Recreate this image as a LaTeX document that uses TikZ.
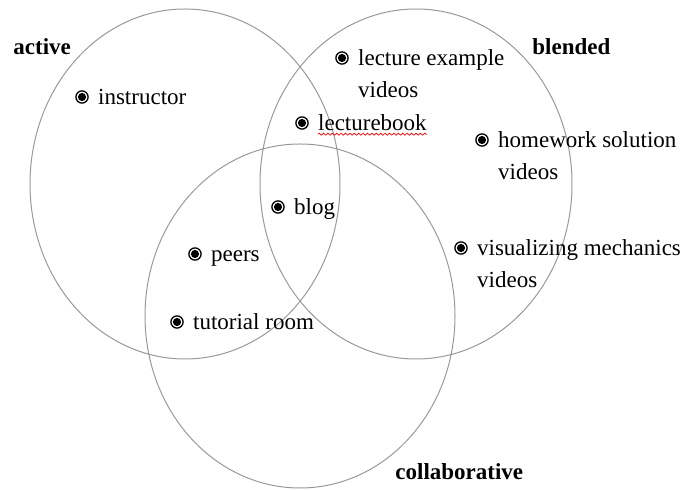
\documentclass[tikz,border=0pt]{standalone}
\usepackage{fontspec}
\setmainfont{Liberation Serif}
\usetikzlibrary{positioning, decorations.pathmorphing}

\newcommand{\vennfont}{\fontsize{11.5}{16}\selectfont}

\tikzset{
  setring/.style={draw=black!40, line width=0.5pt},
  bullet/.style={circle, draw, line width=0.65pt, inner sep=0pt, minimum size=6.1pt,
    path picture={\fill (path picture bounding box.center) circle (2.05pt);}},
  entry/.style={right=4.5pt of #1, anchor=base west, yshift=-4pt, inner sep=0pt,
    align=left, font=\vennfont},
  % base of a two-line entry sits on its last line: drop it by one line
  twolines/.style={yshift=-16pt},
  setname/.style={anchor=base west, inner sep=0pt, font=\vennfont\bfseries},
}

\begin{document}
\begin{tikzpicture}[x=0.5pt, y=-0.5pt]
  \useasboundingbox (0,0) rectangle (685,490);

  % the three sets
  \draw[setring] (185,184) ellipse [x radius=155, y radius=175];
  \draw[setring] (416,184) ellipse [x radius=156, y radius=175];
  \draw[setring] (300,316) ellipse [x radius=155, y radius=172];

  \node[setname] (active) at (13,55) {active};
  \node[setname] (blended) at (532,55) {blended};
  \node[setname] (collab) at (395,480) {collaborative};

  % items
  \node[bullet] (instructor-dot) at (82,97) {};
  \node[entry=instructor-dot] (instructor) {instructor};

  \node[bullet] (lectex-dot) at (342,58) {};
  \node[entry=lectex-dot, twolines] (lectex) {lecture example\\videos};

  \node[bullet] (lecturebook-dot) at (302,123) {};
  \node[entry=lecturebook-dot] (lecturebook) {lecturebook};

  \node[bullet] (homework-dot) at (482,140) {};
  \node[entry=homework-dot, twolines] (homework) {homework solution\\videos};

  \node[bullet] (blog-dot) at (278,207) {};
  \node[entry=blog-dot] (blog) {blog};

  \node[bullet] (visual-dot) at (461,248) {};
  \node[entry=visual-dot, twolines] (visual) {visualizing mechanics\\videos};

  \node[bullet] (peers-dot) at (195,254) {};
  \node[entry=peers-dot] (peers) {peers};

  \node[bullet] (tutorial-dot) at (177,322) {};
  \node[entry=tutorial-dot] (tutorial) {tutorial room};

  % spell-check squiggle
  \draw[red, line width=0.35pt, decorate, decoration={snake, amplitude=0.5pt, segment length=2.2pt}]
    ([yshift=-1.6pt]lecturebook.base west) -- ([yshift=-1.6pt]lecturebook.base east);
\end{tikzpicture}
\end{document}
